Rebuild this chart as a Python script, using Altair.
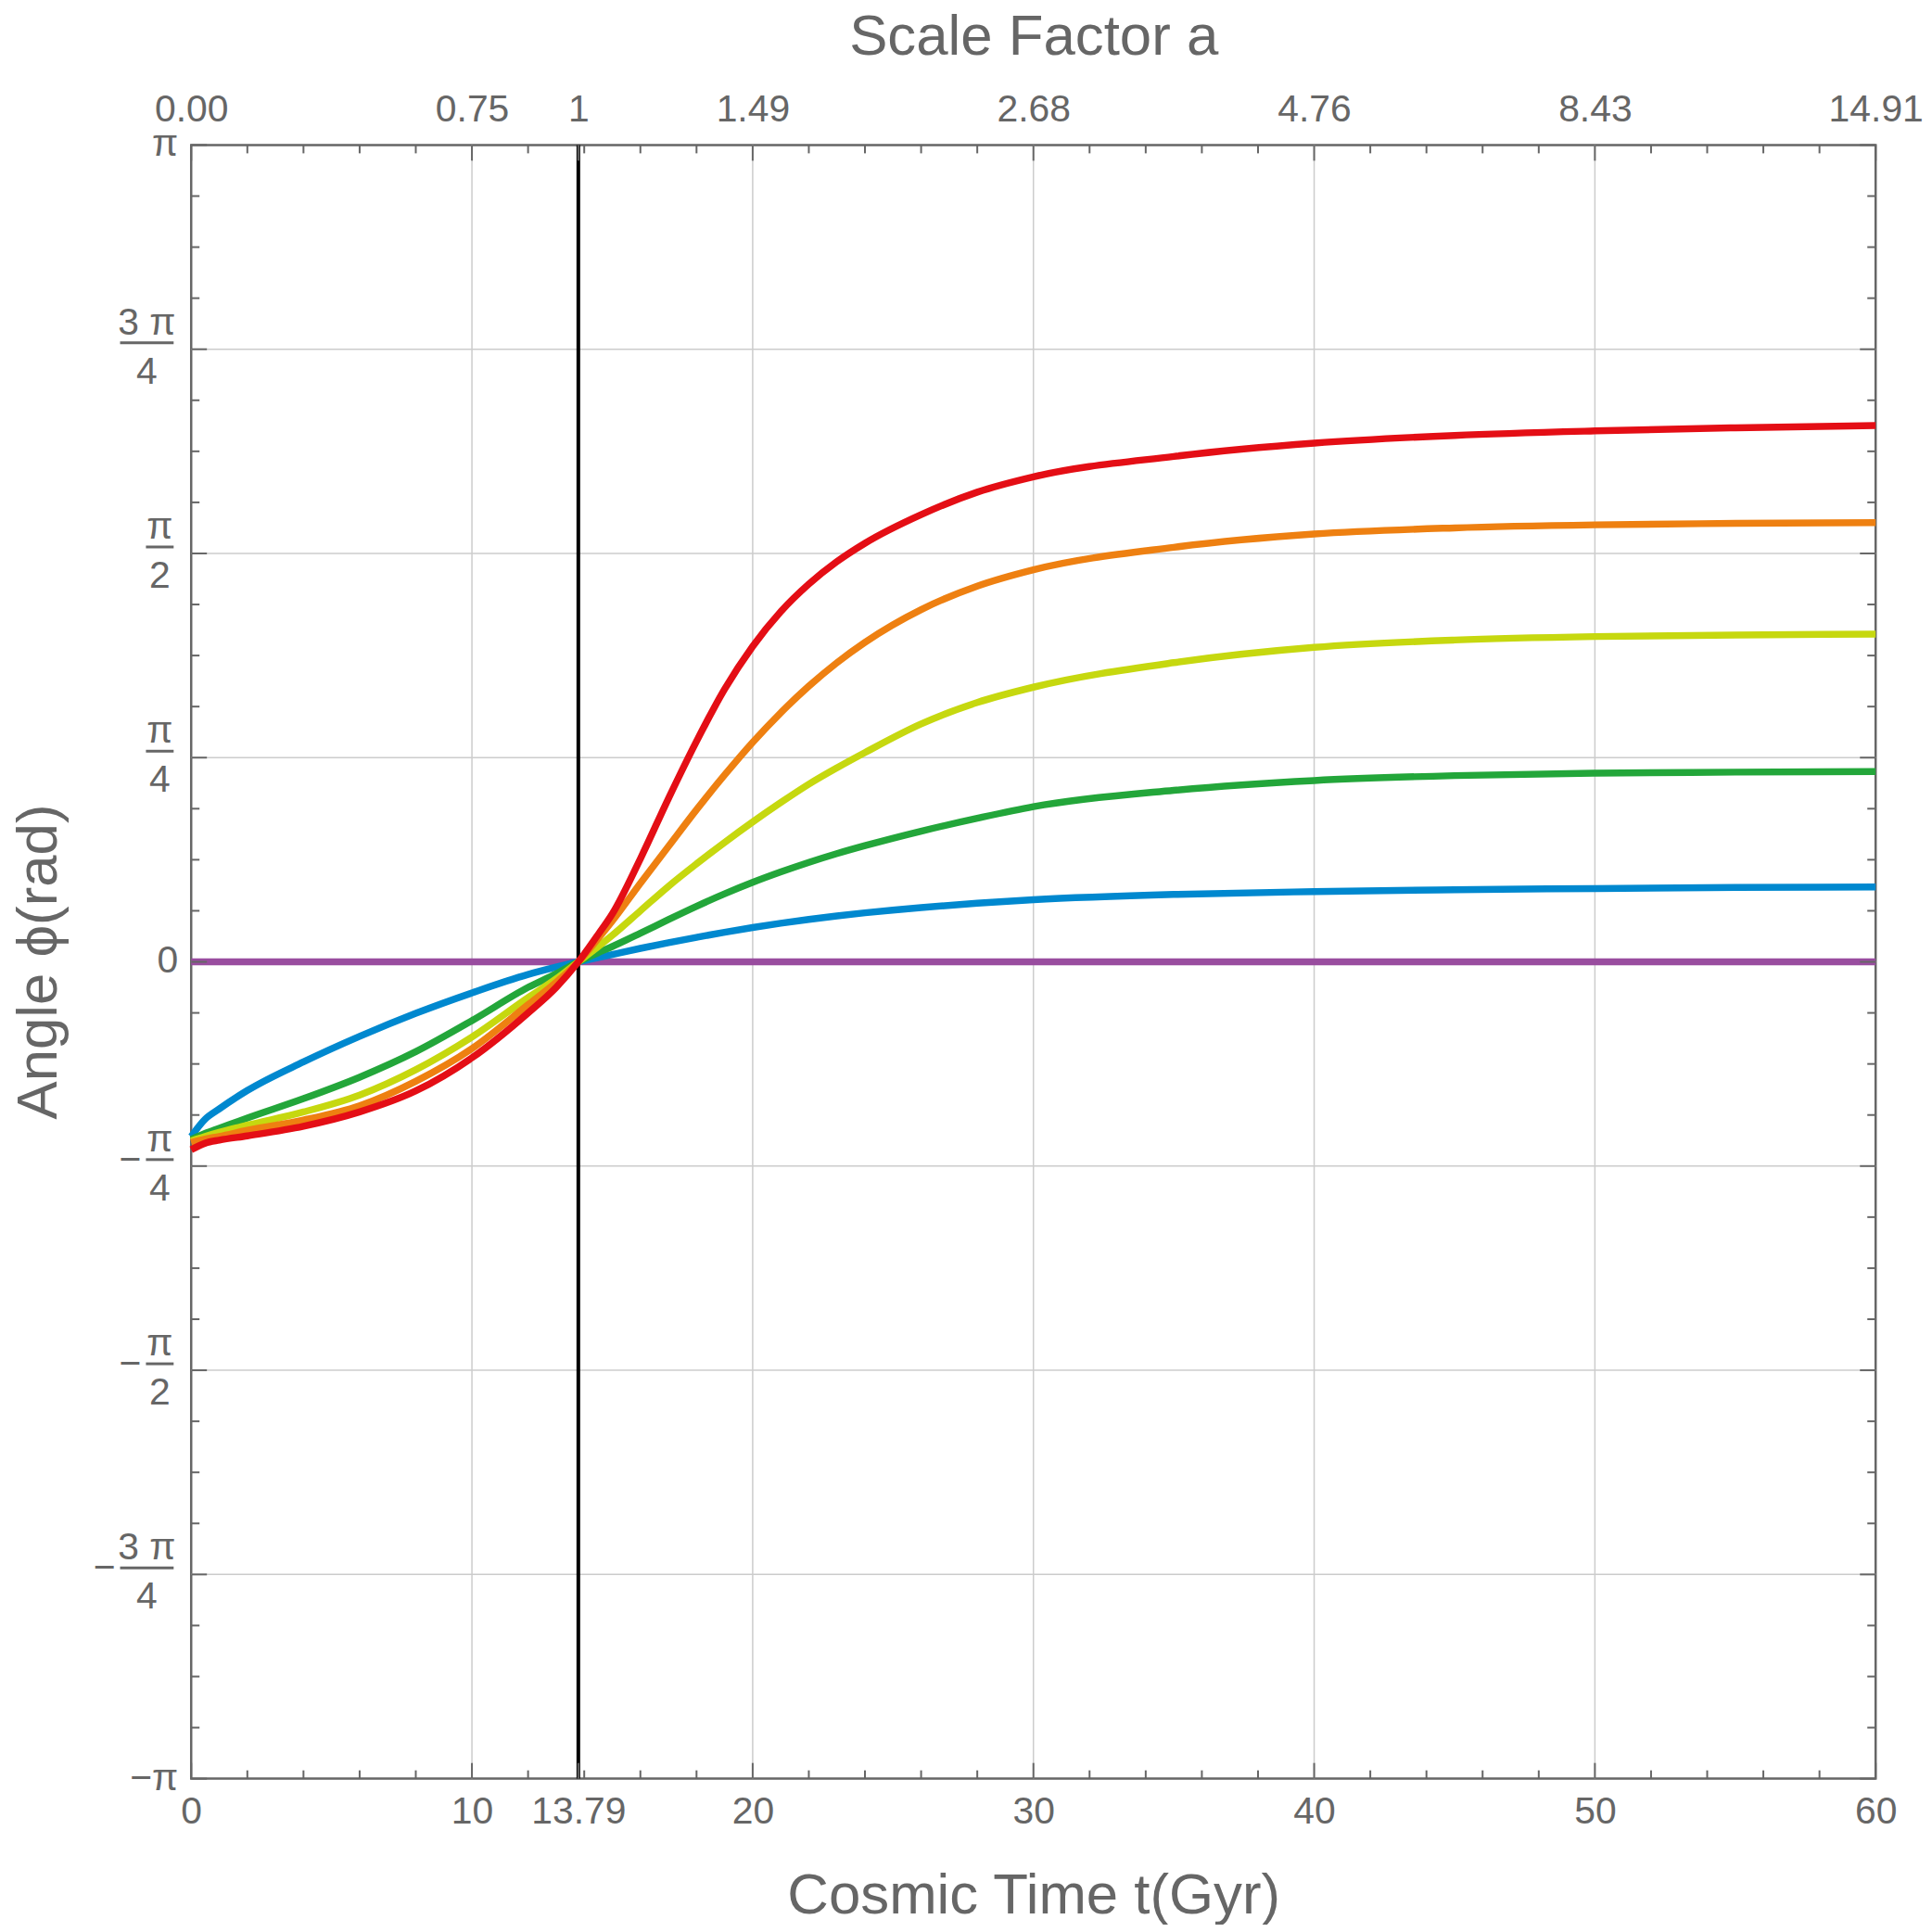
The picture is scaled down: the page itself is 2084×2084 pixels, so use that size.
import math
import altair as alt
import pandas as pd

PI = math.pi

# ---------------- data (angles in units of pi/4) ----------------
t_vals = [0, 0.5, 1, 2, 4, 6, 8, 10, 12, 13, 13.79, 14.5, 15, 16, 17, 18, 19, 20,
          21, 22, 23, 24, 26, 28, 30, 35, 40, 45, 50, 55, 60]

blue = [-0.855, -0.77, -0.72, -0.63, -0.49, -0.365, -0.252, -0.152, -0.062, -0.026, 0.0,
        0.021, 0.036, 0.066, 0.094, 0.12, 0.145, 0.168, 0.189, 0.208, 0.225, 0.24,
        0.266, 0.287, 0.304, 0.330, 0.344, 0.353, 0.359, 0.364, 0.367]
green = [-0.87, -0.84, -0.815, -0.765, -0.67, -0.565, -0.44, -0.288, -0.125, -0.058, 0.0,
         0.045, 0.075, 0.14, 0.207, 0.272, 0.333, 0.389, 0.44, 0.487, 0.53, 0.569,
         0.64, 0.703, 0.76, 0.84, 0.888, 0.912, 0.924, 0.929, 0.932]
yellow = [-0.877, -0.855, -0.835, -0.80, -0.735, -0.652, -0.528, -0.368, -0.175, -0.083, 0.0,
          0.075, 0.13, 0.25, 0.37, 0.48, 0.585, 0.685, 0.78, 0.87, 0.95, 1.025,
          1.165, 1.27, 1.345, 1.465, 1.54, 1.576, 1.593, 1.60, 1.605]
orange = [-0.885, -0.868, -0.855, -0.825, -0.775, -0.705, -0.585, -0.425, -0.21, -0.10, 0.0,
          0.115, 0.20, 0.385, 0.565, 0.745, 0.915, 1.075, 1.22, 1.35, 1.465, 1.565,
          1.725, 1.84, 1.92, 2.03, 2.095, 2.125, 2.14, 2.147, 2.151]
red = [-0.92, -0.888, -0.873, -0.852, -0.805, -0.735, -0.632, -0.47, -0.25, -0.125, 0.0,
       0.135, 0.235, 0.505, 0.80, 1.08, 1.335, 1.545, 1.715, 1.85, 1.96, 2.05,
       2.19, 2.30, 2.375, 2.475, 2.54, 2.578, 2.60, 2.615, 2.626]
purple_t = [0, 60]
purple = [0.0, 0.0]

series_order = ["purple", "blue", "green", "yellow", "orange", "red"]
series_colors = ["#994D9F", "#0088CF", "#23A63A", "#C6D80F", "#EE8011", "#E40E15"]

present_t = 13.79

# axis ticks / labels
bottom_ticks = [0, 10, 13.79, 20, 30, 40, 50, 60]
top_ticks = [0, 10, 13.79, 20, 30, 40, 50, 60]
top_labels = ["0.00", "0.75", "1", "1.49", "2.68", "4.76", "8.43", "14.91"]
x_minor = [2, 4, 6, 8, 12, 14, 16, 18, 22, 24, 26, 28, 32, 34, 36, 38,
           42, 44, 46, 48, 52, 54, 56, 58]
grid_t = [10, 20, 30, 40, 50]
y_major_q = [-4, -3, -2, -1, 0, 1, 2, 3, 4]            # multiples of pi/4
y_minor_s = [k for k in range(-15, 16) if k % 4 != 0]  # multiples of pi/16
grid_q = [-3, -2, -1, 0, 1, 2, 3]

# y tick labels (fractions of pi)
frac_q = [2, 1, -1, -2]          # fractions with a single pi numerator
frac_den = ["2", "4", "4", "2"]
frac3_q = [3, -3]                # fractions with "3 π" numerator
frac3_den = ["4", "4"]
plain_q = [4, 0, -4]
plain_text = ["π", "0", "−π"]

# ---------------- build tables ----------------
rows = []
for name, vals in [("blue", blue), ("green", green), ("yellow", yellow),
                   ("orange", orange), ("red", red)]:
    for t, v in zip(t_vals, vals):
        rows.append({"t": t, "phi": v * PI / 4, "series": name})
for t, v in zip(purple_t, purple):
    rows.append({"t": t, "phi": v * PI / 4, "series": "purple"})
curves = pd.DataFrame(rows)

W, H = 1824, 1769
GRAY = "#666666"
FONT = "Liberation Sans"
LBL = 41

xs = alt.Scale(domain=[0, 60], nice=False, zero=False)
ys = alt.Scale(domain=[-PI, PI], nice=False, zero=False)

top_expr = ""
for tv, lab in zip(top_ticks, top_labels):
    top_expr += f"abs(datum.value - {tv}) < 0.001 ? '{lab}' : "
top_expr += "''"

# gridlines (carry the top axis)
grid_v = alt.Chart(pd.DataFrame({"t": grid_t})).mark_rule(
    color="#cccccc", strokeWidth=1.5
).encode(
    x=alt.X("t:Q", scale=xs, axis=alt.Axis(
        orient="top", values=top_ticks, labelExpr=top_expr, ticks=False, tickSize=0,
        grid=False, domain=False, labelFontSize=LBL, labelColor=GRAY, labelFont=FONT,
        labelPadding=17, labelFlush=False, labelOverlap=False,
        title="Scale Factor a", titleFontSize=62, titleFont=FONT, titleColor=GRAY,
        titleFontWeight="normal", titlePadding=26))
)
grid_h = alt.Chart(pd.DataFrame({"phi": [q * PI / 4 for q in grid_q]})).mark_rule(
    color="#cccccc", strokeWidth=1.5
).encode(y=alt.Y("phi:Q", scale=ys, axis=None))

present = alt.Chart(pd.DataFrame({"t": [present_t]})).mark_rule(
    color="black", strokeWidth=4
).encode(x=alt.X("t:Q", scale=xs, axis=None))

layers = [grid_v, grid_h, present]

for i, (name, col) in enumerate(zip(series_order, series_colors)):
    d = curves[curves.series == name]
    if i == 0:
        enc_x = alt.X("t:Q", scale=xs, axis=alt.Axis(
            orient="bottom", values=bottom_ticks,
            labelExpr="abs(datum.value - 13.79) < 0.001 ? '13.79' : format(datum.value, 'd')",
            ticks=False, tickSize=0, grid=False, domain=False,
            labelFontSize=LBL, labelColor=GRAY, labelFont=FONT, labelPadding=16,
            labelFlush=False, labelOverlap=False,
            title="Cosmic Time t(Gyr)", titleFontSize=62, titleFont=FONT,
            titleColor=GRAY, titleFontWeight="normal", titlePadding=40))
    else:
        enc_x = alt.X("t:Q", scale=xs, axis=None)
    enc_y = alt.Y("phi:Q", scale=ys, axis=None)
    layers.append(
        alt.Chart(d).mark_line(color=col, strokeWidth=7.5, interpolate="monotone").encode(
            x=enc_x, y=enc_y)
    )

# ---- inward ticks ----
TK_MAJ, TK_MIN = 17, 9
tick_style = dict(color=GRAY, strokeWidth=2)
xmaj = pd.DataFrame({"t": bottom_ticks})
xmin = pd.DataFrame({"t": x_minor})
ymaj = pd.DataFrame({"phi": [q * PI / 4 for q in y_major_q]})
ymin = pd.DataFrame({"phi": [s * PI / 16 for s in y_minor_s]})

for df, L in [(xmaj, TK_MAJ), (xmin, TK_MIN)]:
    layers.append(alt.Chart(df).mark_rule(**tick_style).encode(
        x=alt.X("t:Q", scale=xs, axis=None), y=alt.value(H), y2=alt.value(H - L)))
    layers.append(alt.Chart(df).mark_rule(**tick_style).encode(
        x=alt.X("t:Q", scale=xs, axis=None), y=alt.value(0), y2=alt.value(L)))
for df, L in [(ymaj, TK_MAJ), (ymin, TK_MIN)]:
    layers.append(alt.Chart(df).mark_rule(**tick_style).encode(
        y=alt.Y("phi:Q", scale=ys, axis=None), x=alt.value(0), x2=alt.value(L)))
    layers.append(alt.Chart(df).mark_rule(**tick_style).encode(
        y=alt.Y("phi:Q", scale=ys, axis=None), x=alt.value(W), x2=alt.value(W - L)))

# ---- y tick labels as fractions ----
txt = dict(font=FONT, fontSize=LBL, color=GRAY, baseline="middle")

def frac_layers(qs, num, dens, cx, half):
    df = pd.DataFrame({"phi": [q * PI / 4 for q in qs], "num": [num] * len(qs),
                       "den": dens, "sign": ["−" if q < 0 else "" for q in qs]})
    base = alt.Chart(df)
    yenc = alt.Y("phi:Q", scale=ys, axis=None)
    return [
        base.mark_text(align="center", dy=-28, **txt).encode(y=yenc, x=alt.value(cx), text="num:N"),
        base.mark_text(align="center", dy=25, **txt).encode(y=yenc, x=alt.value(cx), text="den:N"),
        base.mark_rule(color=GRAY, strokeWidth=3, yOffset=-7).encode(
            y=yenc, x=alt.value(cx - half), x2=alt.value(cx + half)),
        base.mark_text(align="right", dy=-6, **txt).encode(
            y=yenc, x=alt.value(cx - half - 5), text="sign:N"),
    ]

layers += frac_layers(frac_q, "π", frac_den, -34, 15)
layers += frac_layers(frac3_q, "3 π", frac3_den, -48, 29)

plain_df = pd.DataFrame({"phi": [q * PI / 4 for q in plain_q], "lab": plain_text})
layers.append(alt.Chart(plain_df).mark_text(align="right", **txt).encode(
    y=alt.Y("phi:Q", scale=ys, axis=None), x=alt.value(-14), text="lab:N"))

# ---- y axis title ----
layers.append(alt.Chart(pd.DataFrame({"lab": ["Angle ϕ(rad)"]})).mark_text(
    angle=270, align="center", baseline="alphabetic", font=FONT, fontSize=62, color=GRAY
).encode(x=alt.value(-146), y=alt.value(H / 2), text="lab:N"))

chart = alt.layer(*layers).resolve_axis(x="independent").properties(
    width=W, height=H,
    autosize=alt.AutoSizeParams(type="none"),
    padding={"left": 199, "top": 145, "right": 53, "bottom": 154},
).configure_view(stroke=GRAY, strokeWidth=2.5)

chart.save("out.html", embed_options={"renderer": "svg", "actions": False})
